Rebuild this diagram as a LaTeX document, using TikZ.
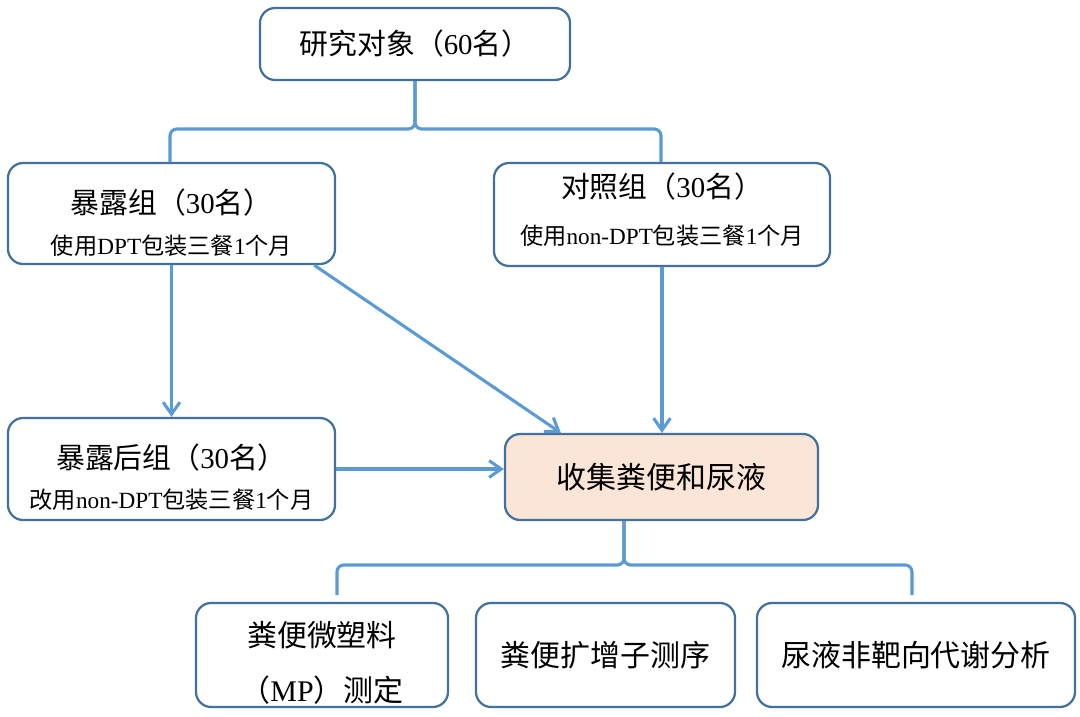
\documentclass[tikz,border=0pt]{standalone}
\usepackage{fontspec}
\setmainfont{Liberation Serif}
\newfontfamily\cjk{Noto Sans CJK SC}
\newcommand{\zh}[1]{{\cjk #1}}
\usetikzlibrary{arrows.meta,calc}
\definecolor{boxline}{HTML}{41719C}
\definecolor{linkblue}{HTML}{5B9BD5}
\definecolor{peach}{HTML}{FBE5D6}
\tikzset{
  box/.style={draw=boxline, line width=1.6pt, rounded corners=0.38cm, fill=white, inner sep=0pt},
  link/.style={draw=linkblue, line width=2.2pt},
  arrow/.style={link, -{Straight Barb[length=3mm,width=4.2mm]}},
  brace/.style={link, rounded corners=0.17cm},
  big/.style={font=\fontsize{20.5}{24}\selectfont},
  small/.style={font=\fontsize{16.5}{20}\selectfont},
  huge/.style={font=\fontsize{21.3}{25}\selectfont},
}

\begin{document}
\begin{tikzpicture}[x=0.025cm, y=-0.025cm]
  \useasboundingbox (0,0) rectangle (1080,717);

  % Study subjects
  \node[box, big, minimum width=7.75cm, minimum height=1.8cm] (subj) at (415,44) {\zh{研究对象（}60\zh{名）}};

  % Exposure and control groups
  \node[box, minimum width=8.175cm, minimum height=2.525cm] (expo) at (171.5,213.5) {};
  \node[big] (expo-t) at (171.5,203) {\zh{暴露组（}30\zh{名）}};
  \node[small] (expo-s) at (171.5,246) {\zh{使用}DPT\zh{包装三餐}1\zh{个月}};

  \node[box, minimum width=8.4cm, minimum height=2.575cm] (ctrl) at (662,214.5) {};
  \node[big] (ctrl-t) at (662,187) {\zh{对照组（}30\zh{名）}};
  \node[small] (ctrl-s) at (662,236) {\zh{使用}non-DPT\zh{包装三餐}1\zh{个月}};

  % After exposure
  \node[box, minimum width=8.175cm, minimum height=2.55cm] (post) at (171.5,469) {};
  \node[big] (post-t) at (171.5,458) {\zh{暴露后组（}30\zh{名）}};
  \node[small] (post-s) at (171.5,500) {\zh{改用}non-DPT\zh{包装三餐}1\zh{个月}};

  % Sampling
  \node[box, huge, fill=peach, minimum width=7.825cm, minimum height=2.15cm] (coll) at (661.5,477) {\zh{收集粪便和尿液}};

  % Analyses
  \node[box, minimum width=6.3cm, minimum height=2.6cm] (mp) at (322,655) {};
  \node[huge] (mp-a) at (322,635) {\zh{粪便微塑料}};
  \node[huge] (mp-b) at (322,690) {\zh{（}MP\zh{）测定}};
  \node[box, huge, minimum width=6.475cm, minimum height=2.6cm] (amp) at (605.5,655) {\zh{粪便扩增子测序}};
  \node[box, huge, minimum width=7.95cm, minimum height=2.6cm] (meta) at (916,655) {\zh{尿液非靶向代谢分析}};

  % Upper brace
  \coordinate (forkA) at (415,129);
  \coordinate (legA) at (170,162);
  \coordinate (legB) at (661,162);
  \draw[brace] (subj.south) -- (subj.south |- forkA) -| (legA);
  \draw[brace] (subj.south) -- (subj.south |- forkA) -| (legB);

  % Arrows
  \draw[arrow] (expo.south) -- (post.north);
  \draw[arrow] ($(expo.south east)+(-22,0)$) -- ($(coll.north west)+(57,0)$);
  \draw[arrow] (ctrl.south) -- (ctrl.south |- coll.north);
  \draw[arrow] (post.east) -- (post.east -| coll.west);

  % Lower brace
  \coordinate (forkB) at (624,565);
  \coordinate (legC) at (337,595);
  \coordinate (legD) at (912,595);
  \draw[brace] (forkB |- coll.south) -- (forkB) -| (legC);
  \draw[brace] (forkB |- coll.south) -- (forkB) -| (legD);
\end{tikzpicture}
\end{document}
